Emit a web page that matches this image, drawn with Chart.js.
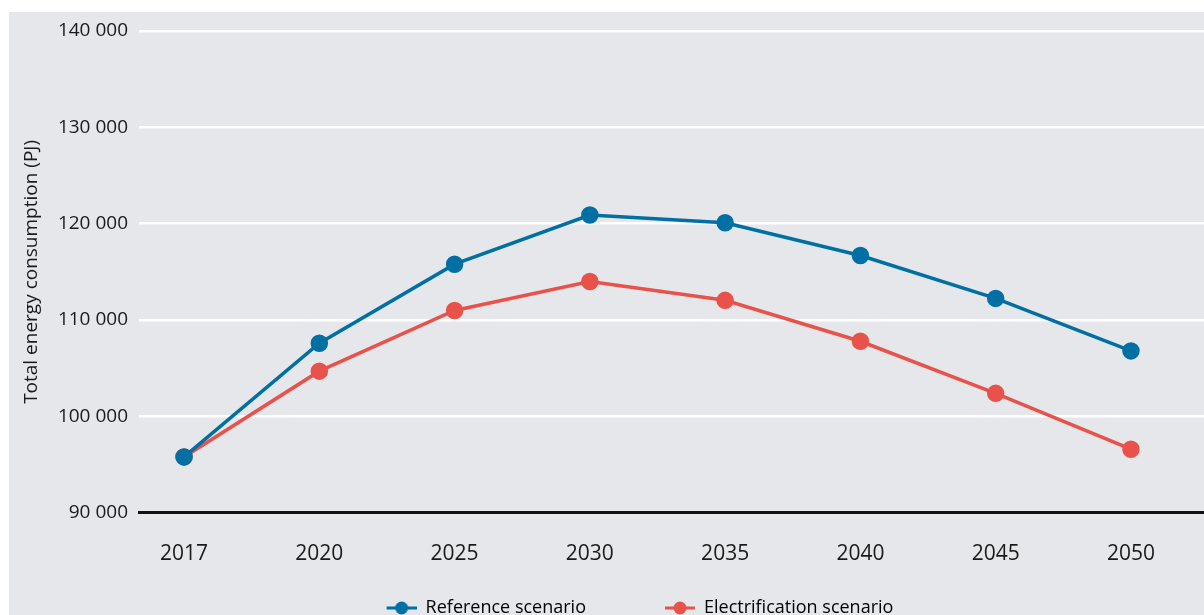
<!DOCTYPE html>
<html>
<head>
<meta charset="utf-8">
<script src="https://cdn.jsdelivr.net/npm/chart.js@4/dist/chart.umd.min.js"></script>
<style>
  html, body { margin: 0; padding: 0; background: #fff; }
  #wrap { width: 1204px; height: 615px; }
</style>
</head>
<body>
<div id="wrap"><canvas id="chart"></canvas></div>
<script>
const years = ["2017", "2020", "2025", "2030", "2035", "2040", "2045", "2050"];
const referenceScenario = [95800, 107600, 115800, 120900, 120100, 116700, 112250, 106800];
const electrificationScenario = [95800, 104700, 111000, 114000, 112050, 107800, 102400, 96600];
const yTicks = [90000, 100000, 110000, 120000, 130000, 140000];

const BLUE = "#006fa3";
const RED = "#e8524a";
const PANEL = "#e6e7eb";
const LEGEND_LEAD = 76; // blank space in front of each legend marker

// marker for the legend: short line with a dot on it, right-aligned in the box
function legendMarker(color) {
  const c = document.createElement("canvas");
  c.width = 30 + LEGEND_LEAD; c.height = 14;
  const g = c.getContext("2d");
  const x0 = LEGEND_LEAD;
  g.strokeStyle = color;
  g.lineWidth = 3;
  g.beginPath(); g.moveTo(x0, 7); g.lineTo(x0 + 30, 7); g.stroke();
  g.fillStyle = color;
  g.beginPath(); g.arc(x0 + 15, 7, 6.5, 0, Math.PI * 2); g.fill();
  return c;
}

function fmt(v) {
  return String(v).replace(/\B(?=(\d{3})+(?!\d))/g, " ");
}

const panelBg = {
  id: "panelBg",
  beforeDraw(chart) {
    const ctx = chart.ctx;
    ctx.save();
    ctx.fillStyle = "#fff";
    ctx.fillRect(0, 0, chart.width, chart.height);
    ctx.fillStyle = PANEL;
    ctx.fillRect(9, 12, chart.width - 9, chart.height - 12);
    ctx.restore();
  }
};

const toPoints = arr => arr.map((v, i) => ({ x: i, y: v }));

new Chart(document.getElementById("chart"), {
  type: "line",
  data: {
    datasets: [
      {
        label: "Reference scenario",
        data: toPoints(referenceScenario),
        borderColor: BLUE,
        backgroundColor: BLUE,
        borderWidth: 3.5,
        pointRadius: 7,
        pointHoverRadius: 7,
        pointStyle: "circle",
        tension: 0
      },
      {
        label: "Electrification scenario",
        data: toPoints(electrificationScenario),
        borderColor: RED,
        backgroundColor: RED,
        borderWidth: 3.5,
        pointRadius: 7,
        pointHoverRadius: 7,
        pointStyle: "circle",
        tension: 0
      }
    ]
  },
  options: {
    responsive: true,
    maintainAspectRatio: false,
    animation: false,
    devicePixelRatio: 1,
    layout: { autoPadding: false, padding: { top: 31, left: 0, right: 0, bottom: -12 } },
    scales: {
      x: {
        type: "linear",
        min: -0.333,
        max: 7.54,
        afterBuildTicks: s => { s.ticks = years.map((y, i) => ({ value: i })); },
        afterFit: s => { s.paddingLeft = 0; s.paddingRight = 0; },
        grid: { display: false, drawTicks: false },
        border: { display: true, color: "#111", width: 3 },
        ticks: {
          autoSkip: false,
          maxRotation: 0,
          padding: 29,
          color: "#1a1a1a",
          font: { family: "'Open Sans'", size: 21 },
          callback: v => years[v]
        }
      },
      y: {
        min: yTicks[0],
        max: yTicks[yTicks.length - 1],
        afterBuildTicks: s => { s.ticks = yTicks.map(v => ({ value: v })); },
        afterFit: s => { s.width = 139; },
        grid: {
          drawTicks: false,
          lineWidth: 2.5,
          color: ctx => ctx.tick && ctx.tick.value === yTicks[0] ? "rgba(0,0,0,0)" : "#ffffff"
        },
        border: { display: false },
        ticks: {
          padding: 11,
          color: "#1a1a1a",
          font: { family: "'Open Sans'", size: 19 },
          callback: v => fmt(v)
        },
        title: {
          display: true,
          text: "Total energy consumption (PJ)",
          color: "#1a1a1a",
          font: { family: "'Open Sans'", size: 19 },
          padding: { top: 20, bottom: 0 }
        }
      }
    },
    plugins: {
      legend: {
        position: "bottom",
        labels: {
          usePointStyle: true,
          pointStyleWidth: 30 + LEGEND_LEAD,
          padding: 3,
          color: "#1a1a1a",
          font: { family: "'Open Sans'", size: 18 },
          generateLabels: chart => chart.data.datasets.map((d, i) => ({
            text: d.label,
            pointStyle: legendMarker(d.borderColor),
            fillStyle: d.borderColor,
            strokeStyle: d.borderColor,
            lineWidth: 0,
            hidden: false,
            datasetIndex: i
          }))
        }
      },
      tooltip: { enabled: false }
    }
  },
  plugins: [panelBg]
});
</script>
</body>
</html>
